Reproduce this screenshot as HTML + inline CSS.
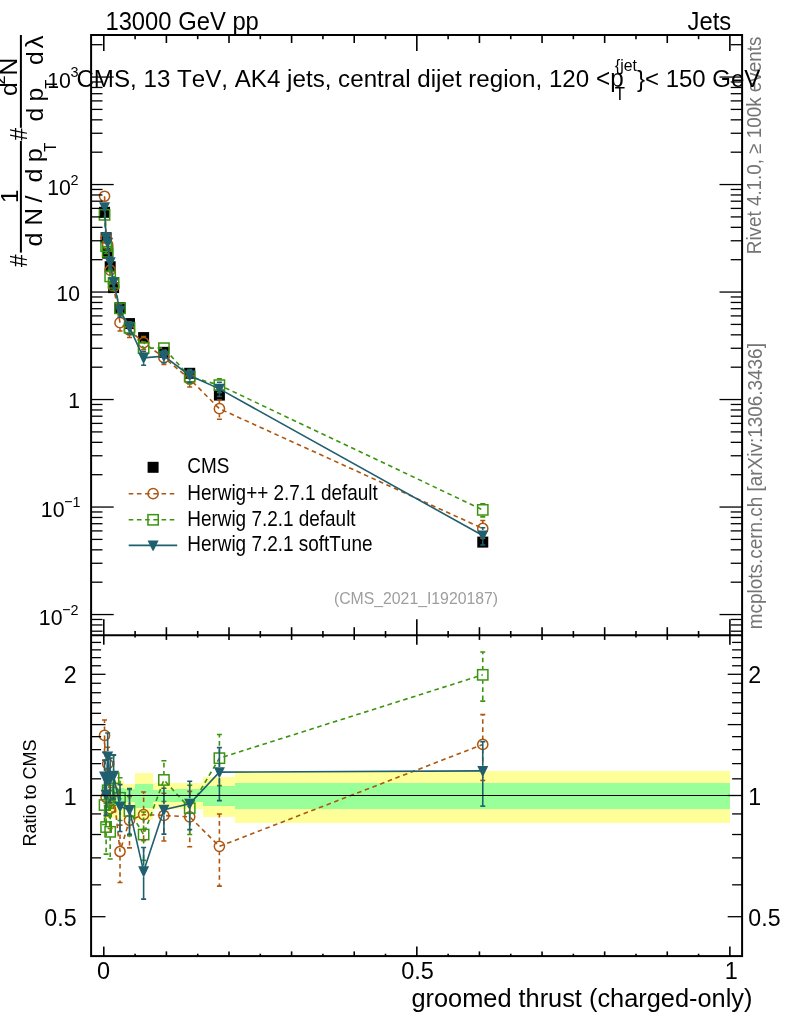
<!DOCTYPE html>
<html lang="en"><head><meta charset="utf-8"><title>groomed thrust (charged-only) - CMS_2021_I1920187</title>
<style>html,body{margin:0;padding:0;background:#fff;}svg{display:block;}text{font-kerning:none;}</style></head>
<body>
<svg width="786" height="1024" viewBox="0 0 786 1024" font-family='"Liberation Sans", sans-serif'>
<rect x="0" y="0" width="786" height="1024" fill="#fff"/>
<defs><clipPath id="cm"><rect x="91.1" y="35.0" width="651.0" height="600.2"/></clipPath><clipPath id="cr"><rect x="91.1" y="635.2" width="651.0" height="320.9"/></clipPath></defs>
<g clip-path="url(#cr)" shape-rendering="crispEdges">
<rect x="103.60" y="775.68" width="1.88" height="42.17" fill="#ffff99"/>
<rect x="105.48" y="775.68" width="1.25" height="42.17" fill="#ffff99"/>
<rect x="106.73" y="777.25" width="1.88" height="40.60" fill="#ffff99"/>
<rect x="108.61" y="780.43" width="3.13" height="38.02" fill="#ffff99"/>
<rect x="111.74" y="780.43" width="3.76" height="38.02" fill="#ffff99"/>
<rect x="115.50" y="780.91" width="8.77" height="37.94" fill="#ffff99"/>
<rect x="124.27" y="784.49" width="10.46" height="22.02" fill="#ffff99"/>
<rect x="134.73" y="773.00" width="17.97" height="47.29" fill="#ffff99"/>
<rect x="152.70" y="783.10" width="22.61" height="25.81" fill="#ffff99"/>
<rect x="175.31" y="783.20" width="28.00" height="25.41" fill="#ffff99"/>
<rect x="203.31" y="777.00" width="31.63" height="39.80" fill="#ffff99"/>
<rect x="234.94" y="771.21" width="494.96" height="51.68" fill="#ffff99"/>
<rect x="103.60" y="786.97" width="1.88" height="17.50" fill="#99ff99"/>
<rect x="105.48" y="786.97" width="1.25" height="17.50" fill="#99ff99"/>
<rect x="106.73" y="786.97" width="1.88" height="17.50" fill="#99ff99"/>
<rect x="108.61" y="786.97" width="3.13" height="17.50" fill="#99ff99"/>
<rect x="111.74" y="787.80" width="3.76" height="15.75" fill="#99ff99"/>
<rect x="115.50" y="787.97" width="8.77" height="14.30" fill="#99ff99"/>
<rect x="124.27" y="789.40" width="10.46" height="12.20" fill="#99ff99"/>
<rect x="134.73" y="783.91" width="17.97" height="23.81" fill="#99ff99"/>
<rect x="152.70" y="789.82" width="22.61" height="12.18" fill="#99ff99"/>
<rect x="175.31" y="789.20" width="28.00" height="12.71" fill="#99ff99"/>
<rect x="203.31" y="786.01" width="31.63" height="20.00" fill="#99ff99"/>
<rect x="234.94" y="783.20" width="494.96" height="25.71" fill="#99ff99"/>
</g>
<g clip-path="url(#cm)">
<rect x="99.04" y="206.79" width="11" height="11" fill="#000" stroke="none"/>
<rect x="100.61" y="232.25" width="11" height="11" fill="#000" stroke="none"/>
<rect x="102.17" y="247.66" width="11" height="11" fill="#000" stroke="none"/>
<rect x="104.68" y="261.23" width="11" height="11" fill="#000" stroke="none"/>
<rect x="108.12" y="282.10" width="11" height="11" fill="#000" stroke="none"/>
<rect x="114.51" y="302.21" width="11" height="11" fill="#000" stroke="none"/>
<rect x="124.00" y="318.08" width="11" height="11" fill="#000" stroke="none"/>
<rect x="138.12" y="332.09" width="11" height="11" fill="#000" stroke="none"/>
<rect x="158.41" y="346.82" width="11" height="11" fill="#000" stroke="none"/>
<rect x="184.22" y="367.79" width="11" height="11" fill="#000" stroke="none"/>
<rect x="213.90" y="389.60" width="11" height="11" fill="#000" stroke="none"/>
<rect x="477.26" y="536.60" width="11" height="11" fill="#000" stroke="none"/>
</g>
<g clip-path="url(#cm)" stroke="#ad560f" fill="none" stroke-width="1.6">
<polyline points="104.54,196.25 106.11,238.22 107.67,244.73 110.18,270.22 113.62,286.68 120.01,322.66 129.50,330.19 143.62,342.69 163.91,357.66 189.72,378.99 219.40,408.68 482.76,528.47" stroke-dasharray="4.6 3.6"/>
<line x1="120.01" y1="317.16" x2="120.01" y2="315.63" stroke-dasharray="4.6 3.6" stroke-dashoffset="1.2"/>
<line x1="117.51" y1="315.63" x2="122.51" y2="315.63"/>
<line x1="120.01" y1="328.16" x2="120.01" y2="330.94" stroke-dasharray="4.6 3.6" stroke-dashoffset="1.2"/>
<line x1="117.51" y1="330.94" x2="122.51" y2="330.94"/>
<line x1="129.50" y1="324.69" x2="129.50" y2="323.81" stroke-dasharray="4.6 3.6" stroke-dashoffset="1.2"/>
<line x1="127.00" y1="323.81" x2="132.00" y2="323.81"/>
<line x1="129.50" y1="335.69" x2="129.50" y2="337.57" stroke-dasharray="4.6 3.6" stroke-dashoffset="1.2"/>
<line x1="127.00" y1="337.57" x2="132.00" y2="337.57"/>
<line x1="143.62" y1="337.19" x2="143.62" y2="336.65" stroke-dasharray="4.6 3.6" stroke-dashoffset="1.2"/>
<line x1="141.12" y1="336.65" x2="146.12" y2="336.65"/>
<line x1="143.62" y1="348.19" x2="143.62" y2="349.64" stroke-dasharray="4.6 3.6" stroke-dashoffset="1.2"/>
<line x1="141.12" y1="349.64" x2="146.12" y2="349.64"/>
<line x1="163.91" y1="352.16" x2="163.91" y2="351.72" stroke-dasharray="4.6 3.6" stroke-dashoffset="1.2"/>
<line x1="161.41" y1="351.72" x2="166.41" y2="351.72"/>
<line x1="163.91" y1="363.16" x2="163.91" y2="364.46" stroke-dasharray="4.6 3.6" stroke-dashoffset="1.2"/>
<line x1="161.41" y1="364.46" x2="166.41" y2="364.46"/>
<line x1="189.72" y1="373.49" x2="189.72" y2="372.18" stroke-dasharray="4.6 3.6" stroke-dashoffset="1.2"/>
<line x1="187.22" y1="372.18" x2="192.22" y2="372.18"/>
<line x1="189.72" y1="384.49" x2="189.72" y2="386.97" stroke-dasharray="4.6 3.6" stroke-dashoffset="1.2"/>
<line x1="187.22" y1="386.97" x2="192.22" y2="386.97"/>
<line x1="219.40" y1="403.18" x2="219.40" y2="400.04" stroke-dasharray="4.6 3.6" stroke-dashoffset="1.2"/>
<line x1="216.90" y1="400.04" x2="221.90" y2="400.04"/>
<line x1="219.40" y1="414.18" x2="219.40" y2="419.29" stroke-dasharray="4.6 3.6" stroke-dashoffset="1.2"/>
<line x1="216.90" y1="419.29" x2="221.90" y2="419.29"/>
<line x1="482.76" y1="522.97" x2="482.76" y2="520.51" stroke-dasharray="4.6 3.6" stroke-dashoffset="1.2"/>
<line x1="480.26" y1="520.51" x2="485.26" y2="520.51"/>
<line x1="482.76" y1="533.97" x2="482.76" y2="538.08" stroke-dasharray="4.6 3.6" stroke-dashoffset="1.2"/>
<line x1="480.26" y1="538.08" x2="485.26" y2="538.08"/>
<circle cx="104.54" cy="196.25" r="5.1" stroke="#ad560f" stroke-width="1.5" fill="none"/>
<circle cx="106.11" cy="238.22" r="5.1" stroke="#ad560f" stroke-width="1.5" fill="none"/>
<circle cx="107.67" cy="244.73" r="5.1" stroke="#ad560f" stroke-width="1.5" fill="none"/>
<circle cx="110.18" cy="270.22" r="5.1" stroke="#ad560f" stroke-width="1.5" fill="none"/>
<circle cx="113.62" cy="286.68" r="5.1" stroke="#ad560f" stroke-width="1.5" fill="none"/>
<circle cx="120.01" cy="322.66" r="5.1" stroke="#ad560f" stroke-width="1.5" fill="none"/>
<circle cx="129.50" cy="330.19" r="5.1" stroke="#ad560f" stroke-width="1.5" fill="none"/>
<circle cx="143.62" cy="342.69" r="5.1" stroke="#ad560f" stroke-width="1.5" fill="none"/>
<circle cx="163.91" cy="357.66" r="5.1" stroke="#ad560f" stroke-width="1.5" fill="none"/>
<circle cx="189.72" cy="378.99" r="5.1" stroke="#ad560f" stroke-width="1.5" fill="none"/>
<circle cx="219.40" cy="408.68" r="5.1" stroke="#ad560f" stroke-width="1.5" fill="none"/>
<circle cx="482.76" cy="528.47" r="5.1" stroke="#ad560f" stroke-width="1.5" fill="none"/>
</g>
<g clip-path="url(#cm)" stroke="#3a940e" fill="none" stroke-width="1.6">
<polyline points="104.54,214.83 106.11,246.17 107.67,251.78 110.18,276.42 113.62,282.98 120.01,308.32 129.50,327.73 143.62,348.01 163.91,348.17 189.72,376.68 219.40,385.13 482.76,509.88" stroke-dasharray="4.6 3.6"/>
<line x1="106.11" y1="240.67" x2="106.11" y2="239.90" stroke-dasharray="4.6 3.6" stroke-dashoffset="1.2"/>
<line x1="103.61" y1="239.90" x2="108.61" y2="239.90"/>
<line x1="106.11" y1="251.67" x2="106.11" y2="253.41" stroke-dasharray="4.6 3.6" stroke-dashoffset="1.2"/>
<line x1="103.61" y1="253.41" x2="108.61" y2="253.41"/>
<line x1="110.18" y1="270.92" x2="110.18" y2="270.14" stroke-dasharray="4.6 3.6" stroke-dashoffset="1.2"/>
<line x1="107.68" y1="270.14" x2="112.68" y2="270.14"/>
<line x1="110.18" y1="281.92" x2="110.18" y2="283.68" stroke-dasharray="4.6 3.6" stroke-dashoffset="1.2"/>
<line x1="107.68" y1="283.68" x2="112.68" y2="283.68"/>
<line x1="113.62" y1="277.48" x2="113.62" y2="276.74" stroke-dasharray="4.6 3.6" stroke-dashoffset="1.2"/>
<line x1="111.12" y1="276.74" x2="116.12" y2="276.74"/>
<line x1="113.62" y1="288.48" x2="113.62" y2="290.19" stroke-dasharray="4.6 3.6" stroke-dashoffset="1.2"/>
<line x1="111.12" y1="290.19" x2="116.12" y2="290.19"/>
<line x1="120.01" y1="313.82" x2="120.01" y2="314.38" stroke-dasharray="4.6 3.6" stroke-dashoffset="1.2"/>
<line x1="117.51" y1="314.38" x2="122.51" y2="314.38"/>
<line x1="129.50" y1="322.23" x2="129.50" y2="321.97" stroke-dasharray="4.6 3.6" stroke-dashoffset="1.2"/>
<line x1="127.00" y1="321.97" x2="132.00" y2="321.97"/>
<line x1="129.50" y1="333.23" x2="129.50" y2="334.29" stroke-dasharray="4.6 3.6" stroke-dashoffset="1.2"/>
<line x1="127.00" y1="334.29" x2="132.00" y2="334.29"/>
<line x1="143.62" y1="342.51" x2="143.62" y2="342.00" stroke-dasharray="4.6 3.6" stroke-dashoffset="1.2"/>
<line x1="141.12" y1="342.00" x2="146.12" y2="342.00"/>
<line x1="143.62" y1="353.51" x2="143.62" y2="354.92" stroke-dasharray="4.6 3.6" stroke-dashoffset="1.2"/>
<line x1="141.12" y1="354.92" x2="146.12" y2="354.92"/>
<line x1="163.91" y1="353.67" x2="163.91" y2="353.94" stroke-dasharray="4.6 3.6" stroke-dashoffset="1.2"/>
<line x1="161.41" y1="353.94" x2="166.41" y2="353.94"/>
<line x1="189.72" y1="371.18" x2="189.72" y2="370.57" stroke-dasharray="4.6 3.6" stroke-dashoffset="1.2"/>
<line x1="187.22" y1="370.57" x2="192.22" y2="370.57"/>
<line x1="189.72" y1="382.18" x2="189.72" y2="383.71" stroke-dasharray="4.6 3.6" stroke-dashoffset="1.2"/>
<line x1="187.22" y1="383.71" x2="192.22" y2="383.71"/>
<line x1="219.40" y1="379.63" x2="219.40" y2="378.80" stroke-dasharray="4.6 3.6" stroke-dashoffset="1.2"/>
<line x1="216.90" y1="378.80" x2="221.90" y2="378.80"/>
<line x1="219.40" y1="390.63" x2="219.40" y2="392.47" stroke-dasharray="4.6 3.6" stroke-dashoffset="1.2"/>
<line x1="216.90" y1="392.47" x2="221.90" y2="392.47"/>
<line x1="482.76" y1="504.38" x2="482.76" y2="503.79" stroke-dasharray="4.6 3.6" stroke-dashoffset="1.2"/>
<line x1="480.26" y1="503.79" x2="485.26" y2="503.79"/>
<line x1="482.76" y1="515.38" x2="482.76" y2="516.89" stroke-dasharray="4.6 3.6" stroke-dashoffset="1.2"/>
<line x1="480.26" y1="516.89" x2="485.26" y2="516.89"/>
<rect x="99.39" y="209.68" width="10.3" height="10.3" stroke="#3a940e" stroke-width="1.5" fill="none"/>
<rect x="100.96" y="241.02" width="10.3" height="10.3" stroke="#3a940e" stroke-width="1.5" fill="none"/>
<rect x="102.52" y="246.63" width="10.3" height="10.3" stroke="#3a940e" stroke-width="1.5" fill="none"/>
<rect x="105.03" y="271.27" width="10.3" height="10.3" stroke="#3a940e" stroke-width="1.5" fill="none"/>
<rect x="108.47" y="277.83" width="10.3" height="10.3" stroke="#3a940e" stroke-width="1.5" fill="none"/>
<rect x="114.86" y="303.17" width="10.3" height="10.3" stroke="#3a940e" stroke-width="1.5" fill="none"/>
<rect x="124.35" y="322.58" width="10.3" height="10.3" stroke="#3a940e" stroke-width="1.5" fill="none"/>
<rect x="138.47" y="342.86" width="10.3" height="10.3" stroke="#3a940e" stroke-width="1.5" fill="none"/>
<rect x="158.76" y="343.02" width="10.3" height="10.3" stroke="#3a940e" stroke-width="1.5" fill="none"/>
<rect x="184.57" y="371.53" width="10.3" height="10.3" stroke="#3a940e" stroke-width="1.5" fill="none"/>
<rect x="214.25" y="379.98" width="10.3" height="10.3" stroke="#3a940e" stroke-width="1.5" fill="none"/>
<rect x="477.61" y="504.73" width="10.3" height="10.3" stroke="#3a940e" stroke-width="1.5" fill="none"/>
</g>
<g clip-path="url(#cm)" stroke="#1f5f6e" fill="none" stroke-width="1.6">
<polyline points="104.54,207.25 106.11,237.56 107.67,242.75 110.18,262.28 113.62,282.31 120.01,310.65 129.50,327.42 143.62,357.85 163.91,356.11 189.72,375.51 219.40,388.86 482.76,535.54"/>
<line x1="107.67" y1="237.25" x2="107.67" y2="236.47"/>
<line x1="105.17" y1="236.47" x2="110.17" y2="236.47"/>
<line x1="107.67" y1="248.25" x2="107.67" y2="250.01"/>
<line x1="105.17" y1="250.01" x2="110.17" y2="250.01"/>
<line x1="110.18" y1="256.78" x2="110.18" y2="256.76"/>
<line x1="107.68" y1="256.76" x2="112.68" y2="256.76"/>
<line x1="110.18" y1="267.78" x2="110.18" y2="268.54"/>
<line x1="107.68" y1="268.54" x2="112.68" y2="268.54"/>
<line x1="113.62" y1="287.81" x2="113.62" y2="288.54"/>
<line x1="111.12" y1="288.54" x2="116.12" y2="288.54"/>
<line x1="120.01" y1="305.15" x2="120.01" y2="304.82"/>
<line x1="117.51" y1="304.82" x2="122.51" y2="304.82"/>
<line x1="120.01" y1="316.15" x2="120.01" y2="317.32"/>
<line x1="117.51" y1="317.32" x2="122.51" y2="317.32"/>
<line x1="129.50" y1="321.92" x2="129.50" y2="321.70"/>
<line x1="127.00" y1="321.70" x2="132.00" y2="321.70"/>
<line x1="129.50" y1="332.92" x2="129.50" y2="333.94"/>
<line x1="127.00" y1="333.94" x2="132.00" y2="333.94"/>
<line x1="143.62" y1="352.35" x2="143.62" y2="351.46"/>
<line x1="141.12" y1="351.46" x2="146.12" y2="351.46"/>
<line x1="143.62" y1="363.35" x2="143.62" y2="365.25"/>
<line x1="141.12" y1="365.25" x2="146.12" y2="365.25"/>
<line x1="163.91" y1="350.61" x2="163.91" y2="350.40"/>
<line x1="161.41" y1="350.40" x2="166.41" y2="350.40"/>
<line x1="163.91" y1="361.61" x2="163.91" y2="362.62"/>
<line x1="161.41" y1="362.62" x2="166.41" y2="362.62"/>
<line x1="189.72" y1="370.01" x2="189.72" y2="369.50"/>
<line x1="187.22" y1="369.50" x2="192.22" y2="369.50"/>
<line x1="189.72" y1="381.01" x2="189.72" y2="382.41"/>
<line x1="187.22" y1="382.41" x2="192.22" y2="382.41"/>
<line x1="219.40" y1="383.36" x2="219.40" y2="382.32"/>
<line x1="216.90" y1="382.32" x2="221.90" y2="382.32"/>
<line x1="219.40" y1="394.36" x2="219.40" y2="396.47"/>
<line x1="216.90" y1="396.47" x2="221.90" y2="396.47"/>
<line x1="482.76" y1="530.04" x2="482.76" y2="527.71"/>
<line x1="480.26" y1="527.71" x2="485.26" y2="527.71"/>
<line x1="482.76" y1="541.04" x2="482.76" y2="544.94"/>
<line x1="480.26" y1="544.94" x2="485.26" y2="544.94"/>
<path d="M99.04 202.25L110.04 202.25L105.04 212.55L104.04 212.55Z" fill="#1f5f6e" stroke="none"/>
<path d="M100.61 232.56L111.61 232.56L106.61 242.86L105.61 242.86Z" fill="#1f5f6e" stroke="none"/>
<path d="M102.17 237.75L113.17 237.75L108.17 248.05L107.17 248.05Z" fill="#1f5f6e" stroke="none"/>
<path d="M104.68 257.28L115.68 257.28L110.68 267.58L109.68 267.58Z" fill="#1f5f6e" stroke="none"/>
<path d="M108.12 277.31L119.12 277.31L114.12 287.61L113.12 287.61Z" fill="#1f5f6e" stroke="none"/>
<path d="M114.51 305.65L125.51 305.65L120.51 315.95L119.51 315.95Z" fill="#1f5f6e" stroke="none"/>
<path d="M124.00 322.42L135.00 322.42L130.00 332.72L129.00 332.72Z" fill="#1f5f6e" stroke="none"/>
<path d="M138.12 352.85L149.12 352.85L144.12 363.15L143.12 363.15Z" fill="#1f5f6e" stroke="none"/>
<path d="M158.41 351.11L169.41 351.11L164.41 361.41L163.41 361.41Z" fill="#1f5f6e" stroke="none"/>
<path d="M184.22 370.51L195.22 370.51L190.22 380.81L189.22 380.81Z" fill="#1f5f6e" stroke="none"/>
<path d="M213.90 383.86L224.90 383.86L219.90 394.16L218.90 394.16Z" fill="#1f5f6e" stroke="none"/>
<path d="M477.26 530.54L488.26 530.54L483.26 540.84L482.26 540.84Z" fill="#1f5f6e" stroke="none"/>
</g>
<g clip-path="url(#cr)" stroke="#ad560f" fill="none" stroke-width="1.6">
<polyline points="104.54,735.42 106.11,797.26 107.67,763.91 110.18,808.57 113.62,792.04 120.01,851.49 129.50,820.25 143.62,814.60 163.91,815.48 189.72,816.86 219.40,846.36 482.76,744.46" stroke-dasharray="4.6 3.6"/>
<line x1="104.54" y1="729.92" x2="104.54" y2="720.00" stroke-dasharray="4.6 3.6" stroke-dashoffset="1.2"/>
<line x1="102.04" y1="720.00" x2="107.04" y2="720.00"/>
<line x1="104.54" y1="740.92" x2="104.54" y2="752.34" stroke-dasharray="4.6 3.6" stroke-dashoffset="1.2"/>
<line x1="102.04" y1="752.34" x2="107.04" y2="752.34"/>
<line x1="106.11" y1="791.76" x2="106.11" y2="780.43" stroke-dasharray="4.6 3.6" stroke-dashoffset="1.2"/>
<line x1="103.61" y1="780.43" x2="108.61" y2="780.43"/>
<line x1="106.11" y1="802.76" x2="106.11" y2="815.88" stroke-dasharray="4.6 3.6" stroke-dashoffset="1.2"/>
<line x1="103.61" y1="815.88" x2="108.61" y2="815.88"/>
<line x1="107.67" y1="758.41" x2="107.67" y2="747.22" stroke-dasharray="4.6 3.6" stroke-dashoffset="1.2"/>
<line x1="105.17" y1="747.22" x2="110.17" y2="747.22"/>
<line x1="107.67" y1="769.41" x2="107.67" y2="782.37" stroke-dasharray="4.6 3.6" stroke-dashoffset="1.2"/>
<line x1="105.17" y1="782.37" x2="110.17" y2="782.37"/>
<line x1="110.18" y1="803.07" x2="110.18" y2="790.67" stroke-dasharray="4.6 3.6" stroke-dashoffset="1.2"/>
<line x1="107.68" y1="790.67" x2="112.68" y2="790.67"/>
<line x1="110.18" y1="814.07" x2="110.18" y2="828.50" stroke-dasharray="4.6 3.6" stroke-dashoffset="1.2"/>
<line x1="107.68" y1="828.50" x2="112.68" y2="828.50"/>
<line x1="113.62" y1="786.54" x2="113.62" y2="774.13" stroke-dasharray="4.6 3.6" stroke-dashoffset="1.2"/>
<line x1="111.12" y1="774.13" x2="116.12" y2="774.13"/>
<line x1="113.62" y1="797.54" x2="113.62" y2="811.99" stroke-dasharray="4.6 3.6" stroke-dashoffset="1.2"/>
<line x1="111.12" y1="811.99" x2="116.12" y2="811.99"/>
<line x1="120.01" y1="845.99" x2="120.01" y2="825.16" stroke-dasharray="4.6 3.6" stroke-dashoffset="1.2"/>
<line x1="117.51" y1="825.16" x2="122.51" y2="825.16"/>
<line x1="120.01" y1="856.99" x2="120.01" y2="882.50" stroke-dasharray="4.6 3.6" stroke-dashoffset="1.2"/>
<line x1="117.51" y1="882.50" x2="122.51" y2="882.50"/>
<line x1="129.50" y1="814.75" x2="129.50" y2="796.38" stroke-dasharray="4.6 3.6" stroke-dashoffset="1.2"/>
<line x1="127.00" y1="796.38" x2="132.00" y2="796.38"/>
<line x1="129.50" y1="825.75" x2="129.50" y2="847.91" stroke-dasharray="4.6 3.6" stroke-dashoffset="1.2"/>
<line x1="127.00" y1="847.91" x2="132.00" y2="847.91"/>
<line x1="143.62" y1="809.10" x2="143.62" y2="791.95" stroke-dasharray="4.6 3.6" stroke-dashoffset="1.2"/>
<line x1="141.12" y1="791.95" x2="146.12" y2="791.95"/>
<line x1="143.62" y1="820.10" x2="143.62" y2="840.63" stroke-dasharray="4.6 3.6" stroke-dashoffset="1.2"/>
<line x1="141.12" y1="840.63" x2="146.12" y2="840.63"/>
<line x1="163.91" y1="809.98" x2="163.91" y2="793.24" stroke-dasharray="4.6 3.6" stroke-dashoffset="1.2"/>
<line x1="161.41" y1="793.24" x2="166.41" y2="793.24"/>
<line x1="163.91" y1="820.98" x2="163.91" y2="840.97" stroke-dasharray="4.6 3.6" stroke-dashoffset="1.2"/>
<line x1="161.41" y1="840.97" x2="166.41" y2="840.97"/>
<line x1="189.72" y1="811.36" x2="189.72" y2="791.35" stroke-dasharray="4.6 3.6" stroke-dashoffset="1.2"/>
<line x1="187.22" y1="791.35" x2="192.22" y2="791.35"/>
<line x1="189.72" y1="822.36" x2="189.72" y2="846.74" stroke-dasharray="4.6 3.6" stroke-dashoffset="1.2"/>
<line x1="187.22" y1="846.74" x2="192.22" y2="846.74"/>
<line x1="219.40" y1="840.86" x2="219.40" y2="814.00" stroke-dasharray="4.6 3.6" stroke-dashoffset="1.2"/>
<line x1="216.90" y1="814.00" x2="221.90" y2="814.00"/>
<line x1="219.40" y1="851.86" x2="219.40" y2="886.11" stroke-dasharray="4.6 3.6" stroke-dashoffset="1.2"/>
<line x1="216.90" y1="886.11" x2="221.90" y2="886.11"/>
<line x1="482.76" y1="738.96" x2="482.76" y2="714.63" stroke-dasharray="4.6 3.6" stroke-dashoffset="1.2"/>
<line x1="480.26" y1="714.63" x2="485.26" y2="714.63"/>
<line x1="482.76" y1="749.96" x2="482.76" y2="780.43" stroke-dasharray="4.6 3.6" stroke-dashoffset="1.2"/>
<line x1="480.26" y1="780.43" x2="485.26" y2="780.43"/>
<circle cx="104.54" cy="735.42" r="5.1" stroke="#ad560f" stroke-width="1.5" fill="none"/>
<circle cx="106.11" cy="797.26" r="5.1" stroke="#ad560f" stroke-width="1.5" fill="none"/>
<circle cx="107.67" cy="763.91" r="5.1" stroke="#ad560f" stroke-width="1.5" fill="none"/>
<circle cx="110.18" cy="808.57" r="5.1" stroke="#ad560f" stroke-width="1.5" fill="none"/>
<circle cx="113.62" cy="792.04" r="5.1" stroke="#ad560f" stroke-width="1.5" fill="none"/>
<circle cx="120.01" cy="851.49" r="5.1" stroke="#ad560f" stroke-width="1.5" fill="none"/>
<circle cx="129.50" cy="820.25" r="5.1" stroke="#ad560f" stroke-width="1.5" fill="none"/>
<circle cx="143.62" cy="814.60" r="5.1" stroke="#ad560f" stroke-width="1.5" fill="none"/>
<circle cx="163.91" cy="815.48" r="5.1" stroke="#ad560f" stroke-width="1.5" fill="none"/>
<circle cx="189.72" cy="816.86" r="5.1" stroke="#ad560f" stroke-width="1.5" fill="none"/>
<circle cx="219.40" cy="846.36" r="5.1" stroke="#ad560f" stroke-width="1.5" fill="none"/>
<circle cx="482.76" cy="744.46" r="5.1" stroke="#ad560f" stroke-width="1.5" fill="none"/>
</g>
<g clip-path="url(#cr)" stroke="#3a940e" fill="none" stroke-width="1.6">
<polyline points="104.54,805.02 106.11,827.03 107.67,790.33 110.18,831.81 113.62,778.20 120.01,797.79 129.50,811.03 143.62,834.52 163.91,779.95 189.72,808.19 219.40,758.17 482.76,674.83" stroke-dasharray="4.6 3.6"/>
<line x1="104.54" y1="799.52" x2="104.54" y2="787.47" stroke-dasharray="4.6 3.6" stroke-dashoffset="1.2"/>
<line x1="102.04" y1="787.47" x2="107.04" y2="787.47"/>
<line x1="104.54" y1="810.52" x2="104.54" y2="824.54" stroke-dasharray="4.6 3.6" stroke-dashoffset="1.2"/>
<line x1="102.04" y1="824.54" x2="107.04" y2="824.54"/>
<line x1="106.11" y1="821.53" x2="106.11" y2="803.55" stroke-dasharray="4.6 3.6" stroke-dashoffset="1.2"/>
<line x1="103.61" y1="803.55" x2="108.61" y2="803.55"/>
<line x1="106.11" y1="832.53" x2="106.11" y2="854.16" stroke-dasharray="4.6 3.6" stroke-dashoffset="1.2"/>
<line x1="103.61" y1="854.16" x2="108.61" y2="854.16"/>
<line x1="107.67" y1="784.83" x2="107.67" y2="772.59" stroke-dasharray="4.6 3.6" stroke-dashoffset="1.2"/>
<line x1="105.17" y1="772.59" x2="110.17" y2="772.59"/>
<line x1="107.67" y1="795.83" x2="107.67" y2="810.08" stroke-dasharray="4.6 3.6" stroke-dashoffset="1.2"/>
<line x1="105.17" y1="810.08" x2="110.17" y2="810.08"/>
<line x1="110.18" y1="826.31" x2="110.18" y2="808.28" stroke-dasharray="4.6 3.6" stroke-dashoffset="1.2"/>
<line x1="107.68" y1="808.28" x2="112.68" y2="808.28"/>
<line x1="110.18" y1="837.31" x2="110.18" y2="858.99" stroke-dasharray="4.6 3.6" stroke-dashoffset="1.2"/>
<line x1="107.68" y1="858.99" x2="112.68" y2="858.99"/>
<line x1="113.62" y1="772.70" x2="113.62" y2="754.81" stroke-dasharray="4.6 3.6" stroke-dashoffset="1.2"/>
<line x1="111.12" y1="754.81" x2="116.12" y2="754.81"/>
<line x1="113.62" y1="783.70" x2="113.62" y2="805.21" stroke-dasharray="4.6 3.6" stroke-dashoffset="1.2"/>
<line x1="111.12" y1="805.21" x2="116.12" y2="805.21"/>
<line x1="120.01" y1="792.29" x2="120.01" y2="777.73" stroke-dasharray="4.6 3.6" stroke-dashoffset="1.2"/>
<line x1="117.51" y1="777.73" x2="122.51" y2="777.73"/>
<line x1="120.01" y1="803.29" x2="120.01" y2="820.45" stroke-dasharray="4.6 3.6" stroke-dashoffset="1.2"/>
<line x1="117.51" y1="820.45" x2="122.51" y2="820.45"/>
<line x1="129.50" y1="805.53" x2="129.50" y2="789.48" stroke-dasharray="4.6 3.6" stroke-dashoffset="1.2"/>
<line x1="127.00" y1="789.48" x2="132.00" y2="789.48"/>
<line x1="129.50" y1="816.53" x2="129.50" y2="835.61" stroke-dasharray="4.6 3.6" stroke-dashoffset="1.2"/>
<line x1="127.00" y1="835.61" x2="132.00" y2="835.61"/>
<line x1="143.62" y1="829.02" x2="143.62" y2="811.99" stroke-dasharray="4.6 3.6" stroke-dashoffset="1.2"/>
<line x1="141.12" y1="811.99" x2="146.12" y2="811.99"/>
<line x1="143.62" y1="840.02" x2="143.62" y2="860.38" stroke-dasharray="4.6 3.6" stroke-dashoffset="1.2"/>
<line x1="141.12" y1="860.38" x2="146.12" y2="860.38"/>
<line x1="163.91" y1="774.45" x2="163.91" y2="760.73" stroke-dasharray="4.6 3.6" stroke-dashoffset="1.2"/>
<line x1="161.41" y1="760.73" x2="166.41" y2="760.73"/>
<line x1="163.91" y1="785.45" x2="163.91" y2="801.55" stroke-dasharray="4.6 3.6" stroke-dashoffset="1.2"/>
<line x1="161.41" y1="801.55" x2="166.41" y2="801.55"/>
<line x1="189.72" y1="802.69" x2="189.72" y2="785.31" stroke-dasharray="4.6 3.6" stroke-dashoffset="1.2"/>
<line x1="187.22" y1="785.31" x2="192.22" y2="785.31"/>
<line x1="189.72" y1="813.69" x2="189.72" y2="834.52" stroke-dasharray="4.6 3.6" stroke-dashoffset="1.2"/>
<line x1="187.22" y1="834.52" x2="192.22" y2="834.52"/>
<line x1="219.40" y1="752.67" x2="219.40" y2="734.43" stroke-dasharray="4.6 3.6" stroke-dashoffset="1.2"/>
<line x1="216.90" y1="734.43" x2="221.90" y2="734.43"/>
<line x1="219.40" y1="763.67" x2="219.40" y2="785.64" stroke-dasharray="4.6 3.6" stroke-dashoffset="1.2"/>
<line x1="216.90" y1="785.64" x2="221.90" y2="785.64"/>
<line x1="482.76" y1="669.33" x2="482.76" y2="652.00" stroke-dasharray="4.6 3.6" stroke-dashoffset="1.2"/>
<line x1="480.26" y1="652.00" x2="485.26" y2="652.00"/>
<line x1="482.76" y1="680.33" x2="482.76" y2="701.08" stroke-dasharray="4.6 3.6" stroke-dashoffset="1.2"/>
<line x1="480.26" y1="701.08" x2="485.26" y2="701.08"/>
<rect x="99.39" y="799.87" width="10.3" height="10.3" stroke="#3a940e" stroke-width="1.5" fill="none"/>
<rect x="100.96" y="821.88" width="10.3" height="10.3" stroke="#3a940e" stroke-width="1.5" fill="none"/>
<rect x="102.52" y="785.18" width="10.3" height="10.3" stroke="#3a940e" stroke-width="1.5" fill="none"/>
<rect x="105.03" y="826.66" width="10.3" height="10.3" stroke="#3a940e" stroke-width="1.5" fill="none"/>
<rect x="108.47" y="773.05" width="10.3" height="10.3" stroke="#3a940e" stroke-width="1.5" fill="none"/>
<rect x="114.86" y="792.64" width="10.3" height="10.3" stroke="#3a940e" stroke-width="1.5" fill="none"/>
<rect x="124.35" y="805.88" width="10.3" height="10.3" stroke="#3a940e" stroke-width="1.5" fill="none"/>
<rect x="138.47" y="829.37" width="10.3" height="10.3" stroke="#3a940e" stroke-width="1.5" fill="none"/>
<rect x="158.76" y="774.80" width="10.3" height="10.3" stroke="#3a940e" stroke-width="1.5" fill="none"/>
<rect x="184.57" y="803.04" width="10.3" height="10.3" stroke="#3a940e" stroke-width="1.5" fill="none"/>
<rect x="214.25" y="753.02" width="10.3" height="10.3" stroke="#3a940e" stroke-width="1.5" fill="none"/>
<rect x="477.61" y="669.68" width="10.3" height="10.3" stroke="#3a940e" stroke-width="1.5" fill="none"/>
</g>
<g clip-path="url(#cr)" stroke="#1f5f6e" fill="none" stroke-width="1.6">
<polyline points="104.54,776.62 106.11,794.80 107.67,756.48 110.18,778.83 113.62,775.68 120.01,806.51 129.50,809.89 143.62,871.36 163.91,809.70 189.72,803.81 219.40,772.13 482.76,770.91"/>
<line x1="104.54" y1="771.12" x2="104.54" y2="760.16"/>
<line x1="102.04" y1="760.16" x2="107.04" y2="760.16"/>
<line x1="104.54" y1="782.12" x2="104.54" y2="794.80"/>
<line x1="102.04" y1="794.80" x2="107.04" y2="794.80"/>
<line x1="106.11" y1="789.30" x2="106.11" y2="776.62"/>
<line x1="103.61" y1="776.62" x2="108.61" y2="776.62"/>
<line x1="106.11" y1="800.30" x2="106.11" y2="815.09"/>
<line x1="103.61" y1="815.09" x2="108.61" y2="815.09"/>
<line x1="107.67" y1="750.98" x2="107.67" y2="732.96"/>
<line x1="105.17" y1="732.96" x2="110.17" y2="732.96"/>
<line x1="107.67" y1="761.98" x2="107.67" y2="783.67"/>
<line x1="105.17" y1="783.67" x2="110.17" y2="783.67"/>
<line x1="110.18" y1="773.33" x2="110.18" y2="758.17"/>
<line x1="107.68" y1="758.17" x2="112.68" y2="758.17"/>
<line x1="110.18" y1="784.33" x2="110.18" y2="802.27"/>
<line x1="107.68" y1="802.27" x2="112.68" y2="802.27"/>
<line x1="113.62" y1="770.18" x2="113.62" y2="755.09"/>
<line x1="111.12" y1="755.09" x2="116.12" y2="755.09"/>
<line x1="113.62" y1="781.18" x2="113.62" y2="799.03"/>
<line x1="111.12" y1="799.03" x2="116.12" y2="799.03"/>
<line x1="120.01" y1="801.01" x2="120.01" y2="784.65"/>
<line x1="117.51" y1="784.65" x2="122.51" y2="784.65"/>
<line x1="120.01" y1="812.01" x2="120.01" y2="831.48"/>
<line x1="117.51" y1="831.48" x2="122.51" y2="831.48"/>
<line x1="129.50" y1="804.39" x2="129.50" y2="788.47"/>
<line x1="127.00" y1="788.47" x2="132.00" y2="788.47"/>
<line x1="129.50" y1="815.39" x2="129.50" y2="834.30"/>
<line x1="127.00" y1="834.30" x2="132.00" y2="834.30"/>
<line x1="143.62" y1="865.86" x2="143.62" y2="847.44"/>
<line x1="141.12" y1="847.44" x2="146.12" y2="847.44"/>
<line x1="143.62" y1="876.86" x2="143.62" y2="899.08"/>
<line x1="141.12" y1="899.08" x2="146.12" y2="899.08"/>
<line x1="163.91" y1="804.20" x2="163.91" y2="788.31"/>
<line x1="161.41" y1="788.31" x2="166.41" y2="788.31"/>
<line x1="163.91" y1="815.20" x2="163.91" y2="834.08"/>
<line x1="161.41" y1="834.08" x2="166.41" y2="834.08"/>
<line x1="189.72" y1="798.31" x2="189.72" y2="781.30"/>
<line x1="187.22" y1="781.30" x2="192.22" y2="781.30"/>
<line x1="189.72" y1="809.31" x2="189.72" y2="829.65"/>
<line x1="187.22" y1="829.65" x2="192.22" y2="829.65"/>
<line x1="219.40" y1="766.63" x2="219.40" y2="747.62"/>
<line x1="216.90" y1="747.62" x2="221.90" y2="747.62"/>
<line x1="219.40" y1="777.63" x2="219.40" y2="800.65"/>
<line x1="216.90" y1="800.65" x2="221.90" y2="800.65"/>
<line x1="482.76" y1="765.41" x2="482.76" y2="741.61"/>
<line x1="480.26" y1="741.61" x2="485.26" y2="741.61"/>
<line x1="482.76" y1="776.41" x2="482.76" y2="806.13"/>
<line x1="480.26" y1="806.13" x2="485.26" y2="806.13"/>
<path d="M99.04 771.62L110.04 771.62L105.04 781.92L104.04 781.92Z" fill="#1f5f6e" stroke="none"/>
<path d="M100.61 789.80L111.61 789.80L106.61 800.10L105.61 800.10Z" fill="#1f5f6e" stroke="none"/>
<path d="M102.17 751.48L113.17 751.48L108.17 761.78L107.17 761.78Z" fill="#1f5f6e" stroke="none"/>
<path d="M104.68 773.83L115.68 773.83L110.68 784.13L109.68 784.13Z" fill="#1f5f6e" stroke="none"/>
<path d="M108.12 770.68L119.12 770.68L114.12 780.98L113.12 780.98Z" fill="#1f5f6e" stroke="none"/>
<path d="M114.51 801.51L125.51 801.51L120.51 811.81L119.51 811.81Z" fill="#1f5f6e" stroke="none"/>
<path d="M124.00 804.89L135.00 804.89L130.00 815.19L129.00 815.19Z" fill="#1f5f6e" stroke="none"/>
<path d="M138.12 866.36L149.12 866.36L144.12 876.66L143.12 876.66Z" fill="#1f5f6e" stroke="none"/>
<path d="M158.41 804.70L169.41 804.70L164.41 815.00L163.41 815.00Z" fill="#1f5f6e" stroke="none"/>
<path d="M184.22 798.81L195.22 798.81L190.22 809.11L189.22 809.11Z" fill="#1f5f6e" stroke="none"/>
<path d="M213.90 767.13L224.90 767.13L219.90 777.43L218.90 777.43Z" fill="#1f5f6e" stroke="none"/>
<path d="M477.26 765.91L488.26 765.91L483.26 776.21L482.26 776.21Z" fill="#1f5f6e" stroke="none"/>
</g>
<line x1="91.1" y1="795.5" x2="742.1" y2="795.5" stroke="#000" stroke-width="1.2"/>
<g stroke="#000" stroke-width="1.3" fill="none">
<line x1="91.10" y1="631.20" x2="102.50" y2="631.20"/>
<line x1="730.70" y1="631.20" x2="742.10" y2="631.20"/>
<line x1="91.10" y1="624.97" x2="102.50" y2="624.97"/>
<line x1="730.70" y1="624.97" x2="742.10" y2="624.97"/>
<line x1="91.10" y1="619.47" x2="102.50" y2="619.47"/>
<line x1="730.70" y1="619.47" x2="742.10" y2="619.47"/>
<line x1="91.10" y1="614.55" x2="113.70" y2="614.55"/>
<line x1="719.50" y1="614.55" x2="742.10" y2="614.55"/>
<line x1="91.10" y1="582.19" x2="102.50" y2="582.19"/>
<line x1="730.70" y1="582.19" x2="742.10" y2="582.19"/>
<line x1="91.10" y1="563.26" x2="102.50" y2="563.26"/>
<line x1="730.70" y1="563.26" x2="742.10" y2="563.26"/>
<line x1="91.10" y1="549.83" x2="102.50" y2="549.83"/>
<line x1="730.70" y1="549.83" x2="742.10" y2="549.83"/>
<line x1="91.10" y1="539.41" x2="102.50" y2="539.41"/>
<line x1="730.70" y1="539.41" x2="742.10" y2="539.41"/>
<line x1="91.10" y1="530.90" x2="102.50" y2="530.90"/>
<line x1="730.70" y1="530.90" x2="742.10" y2="530.90"/>
<line x1="91.10" y1="523.70" x2="102.50" y2="523.70"/>
<line x1="730.70" y1="523.70" x2="742.10" y2="523.70"/>
<line x1="91.10" y1="517.47" x2="102.50" y2="517.47"/>
<line x1="730.70" y1="517.47" x2="742.10" y2="517.47"/>
<line x1="91.10" y1="511.97" x2="102.50" y2="511.97"/>
<line x1="730.70" y1="511.97" x2="742.10" y2="511.97"/>
<line x1="91.10" y1="507.05" x2="113.70" y2="507.05"/>
<line x1="719.50" y1="507.05" x2="742.10" y2="507.05"/>
<line x1="91.10" y1="474.69" x2="102.50" y2="474.69"/>
<line x1="730.70" y1="474.69" x2="742.10" y2="474.69"/>
<line x1="91.10" y1="455.76" x2="102.50" y2="455.76"/>
<line x1="730.70" y1="455.76" x2="742.10" y2="455.76"/>
<line x1="91.10" y1="442.33" x2="102.50" y2="442.33"/>
<line x1="730.70" y1="442.33" x2="742.10" y2="442.33"/>
<line x1="91.10" y1="431.91" x2="102.50" y2="431.91"/>
<line x1="730.70" y1="431.91" x2="742.10" y2="431.91"/>
<line x1="91.10" y1="423.40" x2="102.50" y2="423.40"/>
<line x1="730.70" y1="423.40" x2="742.10" y2="423.40"/>
<line x1="91.10" y1="416.20" x2="102.50" y2="416.20"/>
<line x1="730.70" y1="416.20" x2="742.10" y2="416.20"/>
<line x1="91.10" y1="409.97" x2="102.50" y2="409.97"/>
<line x1="730.70" y1="409.97" x2="742.10" y2="409.97"/>
<line x1="91.10" y1="404.47" x2="102.50" y2="404.47"/>
<line x1="730.70" y1="404.47" x2="742.10" y2="404.47"/>
<line x1="91.10" y1="399.55" x2="113.70" y2="399.55"/>
<line x1="719.50" y1="399.55" x2="742.10" y2="399.55"/>
<line x1="91.10" y1="367.19" x2="102.50" y2="367.19"/>
<line x1="730.70" y1="367.19" x2="742.10" y2="367.19"/>
<line x1="91.10" y1="348.26" x2="102.50" y2="348.26"/>
<line x1="730.70" y1="348.26" x2="742.10" y2="348.26"/>
<line x1="91.10" y1="334.83" x2="102.50" y2="334.83"/>
<line x1="730.70" y1="334.83" x2="742.10" y2="334.83"/>
<line x1="91.10" y1="324.41" x2="102.50" y2="324.41"/>
<line x1="730.70" y1="324.41" x2="742.10" y2="324.41"/>
<line x1="91.10" y1="315.90" x2="102.50" y2="315.90"/>
<line x1="730.70" y1="315.90" x2="742.10" y2="315.90"/>
<line x1="91.10" y1="308.70" x2="102.50" y2="308.70"/>
<line x1="730.70" y1="308.70" x2="742.10" y2="308.70"/>
<line x1="91.10" y1="302.47" x2="102.50" y2="302.47"/>
<line x1="730.70" y1="302.47" x2="742.10" y2="302.47"/>
<line x1="91.10" y1="296.97" x2="102.50" y2="296.97"/>
<line x1="730.70" y1="296.97" x2="742.10" y2="296.97"/>
<line x1="91.10" y1="292.05" x2="113.70" y2="292.05"/>
<line x1="719.50" y1="292.05" x2="742.10" y2="292.05"/>
<line x1="91.10" y1="259.69" x2="102.50" y2="259.69"/>
<line x1="730.70" y1="259.69" x2="742.10" y2="259.69"/>
<line x1="91.10" y1="240.76" x2="102.50" y2="240.76"/>
<line x1="730.70" y1="240.76" x2="742.10" y2="240.76"/>
<line x1="91.10" y1="227.33" x2="102.50" y2="227.33"/>
<line x1="730.70" y1="227.33" x2="742.10" y2="227.33"/>
<line x1="91.10" y1="216.91" x2="102.50" y2="216.91"/>
<line x1="730.70" y1="216.91" x2="742.10" y2="216.91"/>
<line x1="91.10" y1="208.40" x2="102.50" y2="208.40"/>
<line x1="730.70" y1="208.40" x2="742.10" y2="208.40"/>
<line x1="91.10" y1="201.20" x2="102.50" y2="201.20"/>
<line x1="730.70" y1="201.20" x2="742.10" y2="201.20"/>
<line x1="91.10" y1="194.97" x2="102.50" y2="194.97"/>
<line x1="730.70" y1="194.97" x2="742.10" y2="194.97"/>
<line x1="91.10" y1="189.47" x2="102.50" y2="189.47"/>
<line x1="730.70" y1="189.47" x2="742.10" y2="189.47"/>
<line x1="91.10" y1="184.55" x2="113.70" y2="184.55"/>
<line x1="719.50" y1="184.55" x2="742.10" y2="184.55"/>
<line x1="91.10" y1="152.19" x2="102.50" y2="152.19"/>
<line x1="730.70" y1="152.19" x2="742.10" y2="152.19"/>
<line x1="91.10" y1="133.26" x2="102.50" y2="133.26"/>
<line x1="730.70" y1="133.26" x2="742.10" y2="133.26"/>
<line x1="91.10" y1="119.83" x2="102.50" y2="119.83"/>
<line x1="730.70" y1="119.83" x2="742.10" y2="119.83"/>
<line x1="91.10" y1="109.41" x2="102.50" y2="109.41"/>
<line x1="730.70" y1="109.41" x2="742.10" y2="109.41"/>
<line x1="91.10" y1="100.90" x2="102.50" y2="100.90"/>
<line x1="730.70" y1="100.90" x2="742.10" y2="100.90"/>
<line x1="91.10" y1="93.70" x2="102.50" y2="93.70"/>
<line x1="730.70" y1="93.70" x2="742.10" y2="93.70"/>
<line x1="91.10" y1="87.47" x2="102.50" y2="87.47"/>
<line x1="730.70" y1="87.47" x2="742.10" y2="87.47"/>
<line x1="91.10" y1="81.97" x2="102.50" y2="81.97"/>
<line x1="730.70" y1="81.97" x2="742.10" y2="81.97"/>
<line x1="91.10" y1="77.05" x2="113.70" y2="77.05"/>
<line x1="719.50" y1="77.05" x2="742.10" y2="77.05"/>
<line x1="91.10" y1="44.69" x2="102.50" y2="44.69"/>
<line x1="730.70" y1="44.69" x2="742.10" y2="44.69"/>
<line x1="91.10" y1="916.70" x2="105.50" y2="916.70"/>
<line x1="727.70" y1="916.70" x2="742.10" y2="916.70"/>
<line x1="91.10" y1="884.82" x2="101.10" y2="884.82"/>
<line x1="732.10" y1="884.82" x2="742.10" y2="884.82"/>
<line x1="91.10" y1="857.87" x2="101.10" y2="857.87"/>
<line x1="732.10" y1="857.87" x2="742.10" y2="857.87"/>
<line x1="91.10" y1="834.52" x2="101.10" y2="834.52"/>
<line x1="732.10" y1="834.52" x2="742.10" y2="834.52"/>
<line x1="91.10" y1="813.92" x2="101.10" y2="813.92"/>
<line x1="732.10" y1="813.92" x2="742.10" y2="813.92"/>
<line x1="91.10" y1="795.50" x2="105.50" y2="795.50"/>
<line x1="727.70" y1="795.50" x2="742.10" y2="795.50"/>
<line x1="91.10" y1="778.83" x2="101.10" y2="778.83"/>
<line x1="732.10" y1="778.83" x2="742.10" y2="778.83"/>
<line x1="91.10" y1="763.62" x2="101.10" y2="763.62"/>
<line x1="732.10" y1="763.62" x2="742.10" y2="763.62"/>
<line x1="91.10" y1="749.62" x2="101.10" y2="749.62"/>
<line x1="732.10" y1="749.62" x2="742.10" y2="749.62"/>
<line x1="91.10" y1="736.67" x2="101.10" y2="736.67"/>
<line x1="732.10" y1="736.67" x2="742.10" y2="736.67"/>
<line x1="91.10" y1="724.60" x2="105.50" y2="724.60"/>
<line x1="727.70" y1="724.60" x2="742.10" y2="724.60"/>
<line x1="91.10" y1="713.32" x2="101.10" y2="713.32"/>
<line x1="732.10" y1="713.32" x2="742.10" y2="713.32"/>
<line x1="91.10" y1="702.72" x2="101.10" y2="702.72"/>
<line x1="732.10" y1="702.72" x2="742.10" y2="702.72"/>
<line x1="91.10" y1="692.72" x2="101.10" y2="692.72"/>
<line x1="732.10" y1="692.72" x2="742.10" y2="692.72"/>
<line x1="91.10" y1="683.27" x2="101.10" y2="683.27"/>
<line x1="732.10" y1="683.27" x2="742.10" y2="683.27"/>
<line x1="91.10" y1="674.30" x2="105.50" y2="674.30"/>
<line x1="727.70" y1="674.30" x2="742.10" y2="674.30"/>
<line x1="91.10" y1="665.77" x2="101.10" y2="665.77"/>
<line x1="732.10" y1="665.77" x2="742.10" y2="665.77"/>
<line x1="91.10" y1="657.63" x2="101.10" y2="657.63"/>
<line x1="732.10" y1="657.63" x2="742.10" y2="657.63"/>
<line x1="91.10" y1="649.86" x2="101.10" y2="649.86"/>
<line x1="732.10" y1="649.86" x2="742.10" y2="649.86"/>
<line x1="91.10" y1="642.42" x2="101.10" y2="642.42"/>
<line x1="732.10" y1="642.42" x2="742.10" y2="642.42"/>
<line x1="103.78" y1="35.00" x2="103.78" y2="51.00" stroke-width="1.6"/>
<line x1="103.78" y1="619.20" x2="103.78" y2="644.70" stroke-width="1.6"/>
<line x1="103.78" y1="946.60" x2="103.78" y2="956.10" stroke-width="1.6"/>
<line x1="135.09" y1="35.00" x2="135.09" y2="39.20" stroke-width="1.6"/>
<line x1="135.09" y1="631.00" x2="135.09" y2="637.60" stroke-width="1.6"/>
<line x1="135.09" y1="953.70" x2="135.09" y2="956.10" stroke-width="1.6"/>
<line x1="166.39" y1="35.00" x2="166.39" y2="43.00" stroke-width="1.6"/>
<line x1="166.39" y1="627.20" x2="166.39" y2="639.90" stroke-width="1.6"/>
<line x1="166.39" y1="951.40" x2="166.39" y2="956.10" stroke-width="1.6"/>
<line x1="197.70" y1="35.00" x2="197.70" y2="39.20" stroke-width="1.6"/>
<line x1="197.70" y1="631.00" x2="197.70" y2="637.60" stroke-width="1.6"/>
<line x1="197.70" y1="953.70" x2="197.70" y2="956.10" stroke-width="1.6"/>
<line x1="229.00" y1="35.00" x2="229.00" y2="43.00" stroke-width="1.6"/>
<line x1="229.00" y1="627.20" x2="229.00" y2="639.90" stroke-width="1.6"/>
<line x1="229.00" y1="951.40" x2="229.00" y2="956.10" stroke-width="1.6"/>
<line x1="260.31" y1="35.00" x2="260.31" y2="39.20" stroke-width="1.6"/>
<line x1="260.31" y1="631.00" x2="260.31" y2="637.60" stroke-width="1.6"/>
<line x1="260.31" y1="953.70" x2="260.31" y2="956.10" stroke-width="1.6"/>
<line x1="291.61" y1="35.00" x2="291.61" y2="43.00" stroke-width="1.6"/>
<line x1="291.61" y1="627.20" x2="291.61" y2="639.90" stroke-width="1.6"/>
<line x1="291.61" y1="951.40" x2="291.61" y2="956.10" stroke-width="1.6"/>
<line x1="322.92" y1="35.00" x2="322.92" y2="39.20" stroke-width="1.6"/>
<line x1="322.92" y1="631.00" x2="322.92" y2="637.60" stroke-width="1.6"/>
<line x1="322.92" y1="953.70" x2="322.92" y2="956.10" stroke-width="1.6"/>
<line x1="354.22" y1="35.00" x2="354.22" y2="43.00" stroke-width="1.6"/>
<line x1="354.22" y1="627.20" x2="354.22" y2="639.90" stroke-width="1.6"/>
<line x1="354.22" y1="951.40" x2="354.22" y2="956.10" stroke-width="1.6"/>
<line x1="385.52" y1="35.00" x2="385.52" y2="39.20" stroke-width="1.6"/>
<line x1="385.52" y1="631.00" x2="385.52" y2="637.60" stroke-width="1.6"/>
<line x1="385.52" y1="953.70" x2="385.52" y2="956.10" stroke-width="1.6"/>
<line x1="416.83" y1="35.00" x2="416.83" y2="51.00" stroke-width="1.6"/>
<line x1="416.83" y1="619.20" x2="416.83" y2="644.70" stroke-width="1.6"/>
<line x1="416.83" y1="946.60" x2="416.83" y2="956.10" stroke-width="1.6"/>
<line x1="448.13" y1="35.00" x2="448.13" y2="39.20" stroke-width="1.6"/>
<line x1="448.13" y1="631.00" x2="448.13" y2="637.60" stroke-width="1.6"/>
<line x1="448.13" y1="953.70" x2="448.13" y2="956.10" stroke-width="1.6"/>
<line x1="479.44" y1="35.00" x2="479.44" y2="43.00" stroke-width="1.6"/>
<line x1="479.44" y1="627.20" x2="479.44" y2="639.90" stroke-width="1.6"/>
<line x1="479.44" y1="951.40" x2="479.44" y2="956.10" stroke-width="1.6"/>
<line x1="510.75" y1="35.00" x2="510.75" y2="39.20" stroke-width="1.6"/>
<line x1="510.75" y1="631.00" x2="510.75" y2="637.60" stroke-width="1.6"/>
<line x1="510.75" y1="953.70" x2="510.75" y2="956.10" stroke-width="1.6"/>
<line x1="542.05" y1="35.00" x2="542.05" y2="43.00" stroke-width="1.6"/>
<line x1="542.05" y1="627.20" x2="542.05" y2="639.90" stroke-width="1.6"/>
<line x1="542.05" y1="951.40" x2="542.05" y2="956.10" stroke-width="1.6"/>
<line x1="573.36" y1="35.00" x2="573.36" y2="39.20" stroke-width="1.6"/>
<line x1="573.36" y1="631.00" x2="573.36" y2="637.60" stroke-width="1.6"/>
<line x1="573.36" y1="953.70" x2="573.36" y2="956.10" stroke-width="1.6"/>
<line x1="604.66" y1="35.00" x2="604.66" y2="43.00" stroke-width="1.6"/>
<line x1="604.66" y1="627.20" x2="604.66" y2="639.90" stroke-width="1.6"/>
<line x1="604.66" y1="951.40" x2="604.66" y2="956.10" stroke-width="1.6"/>
<line x1="635.97" y1="35.00" x2="635.97" y2="39.20" stroke-width="1.6"/>
<line x1="635.97" y1="631.00" x2="635.97" y2="637.60" stroke-width="1.6"/>
<line x1="635.97" y1="953.70" x2="635.97" y2="956.10" stroke-width="1.6"/>
<line x1="667.27" y1="35.00" x2="667.27" y2="43.00" stroke-width="1.6"/>
<line x1="667.27" y1="627.20" x2="667.27" y2="639.90" stroke-width="1.6"/>
<line x1="667.27" y1="951.40" x2="667.27" y2="956.10" stroke-width="1.6"/>
<line x1="698.58" y1="35.00" x2="698.58" y2="39.20" stroke-width="1.6"/>
<line x1="698.58" y1="631.00" x2="698.58" y2="637.60" stroke-width="1.6"/>
<line x1="698.58" y1="953.70" x2="698.58" y2="956.10" stroke-width="1.6"/>
<line x1="729.88" y1="35.00" x2="729.88" y2="51.00" stroke-width="1.6"/>
<line x1="729.88" y1="619.20" x2="729.88" y2="644.70" stroke-width="1.6"/>
<line x1="729.88" y1="946.60" x2="729.88" y2="956.10" stroke-width="1.6"/>
</g>
<g stroke="#000" stroke-width="2" fill="none"><rect x="91.1" y="35.0" width="651.0" height="921.1"/><line x1="91.1" y1="635.2" x2="742.1" y2="635.2"/></g>
<text transform="translate(760.50 254.20) rotate(-90) scale(0.9510 1)" font-size="19.80" text-anchor="start" fill="#747474">Rivet 4.1.0, ≥ 100k events</text>
<text transform="translate(762.20 629.30) rotate(-90) scale(0.9570 1)" font-size="19.80" text-anchor="start" fill="#747474">mcplots.cern.ch [arXiv:1306.3436]</text>
<text transform="translate(105.40 29.70) scale(0.9300 1)" font-size="25.59" text-anchor="start" fill="#000">13000 GeV pp</text>
<text transform="translate(731.20 29.70) scale(0.9300 1)" font-size="25.59" text-anchor="end" fill="#000">Jets</text>
<text transform="translate(76.40 86.90) scale(0.9720 1)" font-size="24.85" text-anchor="start" fill="#000">CMS, 13 TeV, AK4 jets, central dijet region, 120</text>
<text transform="translate(596.10 86.90) scale(0.9720 1)" font-size="25.00" text-anchor="start" fill="#000">&lt;p</text>
<text transform="translate(619.80 99.60) scale(0.9300 1)" font-size="18.06" text-anchor="middle" fill="#000">T</text>
<text transform="translate(615.00 70.60) scale(0.9300 1)" font-size="16.99" text-anchor="start" fill="#000">{jet</text>
<text transform="translate(637.00 86.90) scale(0.9720 1)" font-size="24.69" text-anchor="start" fill="#000">}&lt; 150 GeV</text>
<text transform="translate(78.6 625.45) scale(0.935 1)" font-size="22.8" text-anchor="end">10<tspan font-size="15.4" dx="-0.4" dy="-10.6">−2</tspan></text>
<text transform="translate(80.6 517.25) scale(0.935 1)" font-size="22.8" text-anchor="end">10<tspan font-size="15.4" dx="-0.4" dy="-10.6">−1</tspan></text>
<text transform="translate(80.00 407.75) scale(0.9450 1)" font-size="22.33" text-anchor="end" fill="#000">1</text>
<text transform="translate(80.00 301.35) scale(0.9450 1)" font-size="22.33" text-anchor="end" fill="#000">10</text>
<text transform="translate(78.6 195.45) scale(0.935 1)" font-size="22.8" text-anchor="end">10<tspan font-size="15.4" dx="-0.4" dy="-10.6">2</tspan></text>
<text transform="translate(78.6 87.95) scale(0.935 1)" font-size="22.8" text-anchor="end">10<tspan font-size="15.4" dx="-0.4" dy="-10.6">3</tspan></text>
<text transform="translate(76.60 683.20) scale(0.9550 1)" font-size="24.29" text-anchor="end" fill="#000">2</text>
<text transform="translate(748.30 683.20) scale(0.9550 1)" font-size="24.29" text-anchor="start" fill="#000">2</text>
<text transform="translate(76.60 805.00) scale(0.9550 1)" font-size="24.29" text-anchor="end" fill="#000">1</text>
<text transform="translate(748.30 805.00) scale(0.9550 1)" font-size="24.29" text-anchor="start" fill="#000">1</text>
<text transform="translate(76.60 925.60) scale(0.9550 1)" font-size="24.29" text-anchor="end" fill="#000">0.5</text>
<text transform="translate(748.30 925.60) scale(0.9550 1)" font-size="24.29" text-anchor="start" fill="#000">0.5</text>
<text transform="translate(103.48 978.70) scale(0.9550 1)" font-size="24.61" text-anchor="middle" fill="#000">0</text>
<text transform="translate(417.53 978.70) scale(0.9550 1)" font-size="24.61" text-anchor="middle" fill="#000">0.5</text>
<text transform="translate(731.28 978.70) scale(0.9550 1)" font-size="24.61" text-anchor="middle" fill="#000">1</text>
<text transform="translate(752.40 1007.30) scale(0.9800 1)" font-size="25.87" text-anchor="end" fill="#000">groomed thrust (charged-only)</text>
<text transform="translate(36.30 846.50) rotate(-90) scale(1.0000 1)" font-size="18.00" text-anchor="start" fill="#000">Ratio to CMS</text>
<text transform="translate(416.00 604.30) scale(0.9300 1)" font-size="16.99" text-anchor="middle" fill="#9e9e9e">(CMS_2021_I1920187)</text>
<rect x="147.60" y="461.80" width="11" height="11" fill="#000" stroke="none"/>
<line x1="128.7" y1="493.7" x2="175.2" y2="493.7" stroke="#ad560f" stroke-width="1.6" stroke-dasharray="4.6 3.6"/>
<circle cx="153.10" cy="493.70" r="5.1" stroke="#ad560f" stroke-width="1.5" fill="none"/>
<line x1="128.7" y1="519.8" x2="175.2" y2="519.8" stroke="#3a940e" stroke-width="1.6" stroke-dasharray="4.6 3.6"/>
<rect x="147.95" y="514.65" width="10.3" height="10.3" stroke="#3a940e" stroke-width="1.5" fill="none"/>
<line x1="128.7" y1="545.4" x2="177.2" y2="545.4" stroke="#1f5f6e" stroke-width="1.6"/>
<path d="M147.60 540.40L158.60 540.40L153.60 550.70L152.60 550.70Z" fill="#1f5f6e" stroke="none"/>
<text transform="translate(187.20 473.20) scale(0.8950 1)" font-size="21.17" text-anchor="start" fill="#000">CMS</text>
<text transform="translate(187.20 499.60) scale(0.8950 1)" font-size="21.17" text-anchor="start" fill="#000">Herwig++ 2.7.1 default</text>
<text transform="translate(187.20 525.70) scale(0.8950 1)" font-size="21.17" text-anchor="start" fill="#000">Herwig 7.2.1 default</text>
<text transform="translate(187.20 551.30) scale(0.8950 1)" font-size="21.17" text-anchor="start" fill="#000">Herwig 7.2.1 softTune</text>
<line x1="20.9" y1="35" x2="20.9" y2="127.8" stroke="#000" stroke-width="2"/>
<line x1="20.9" y1="141" x2="20.9" y2="252.6" stroke="#000" stroke-width="2"/>
<text transform="translate(27.30 140.40) rotate(-90) scale(0.95 1)" font-size="24.00" fill="#000">#</text>
<text transform="translate(27.30 267.00) rotate(-90) scale(0.95 1)" font-size="24.00" fill="#000">#</text>
<text transform="translate(17.00 96.00) rotate(-90) scale(1.03 1)" font-size="24.00" fill="#000">d</text>
<text transform="translate(5.00 84.60) rotate(-90) scale(1.03 1)" font-size="16.00" fill="#000">2</text>
<text transform="translate(17.00 75.40) rotate(-90) scale(1.03 1)" font-size="24.00" fill="#000">N</text>
<text transform="translate(42.60 121.60) rotate(-90) scale(1.03 1)" font-size="24.00" fill="#000">d</text>
<text transform="translate(42.60 101.50) rotate(-90) scale(1.03 1)" font-size="24.00" fill="#000">p</text>
<text transform="translate(57.10 88.70) rotate(-90) scale(0.87 1)" font-size="17.10" fill="#000">T</text>
<text transform="translate(42.60 65.00) rotate(-90) scale(1.03 1)" font-size="24.00" fill="#000">d</text>
<text transform="translate(42.60 48.60) rotate(-90) scale(1.09 1)" font-size="24.00" fill="#000">λ</text>
<text transform="translate(17.60 203.20) rotate(-90) scale(1.03 1)" font-size="24.00" fill="#000">1</text>
<text transform="translate(42.40 246.40) rotate(-90) scale(1.03 1)" font-size="24.50" fill="#000">d</text>
<text transform="translate(42.40 225.60) rotate(-90) scale(0.98 1)" font-size="24.50" fill="#000">N</text>
<text transform="translate(42.40 202.40) rotate(-90) scale(1.03 1)" font-size="24.50" fill="#000">/</text>
<text transform="translate(42.40 182.50) rotate(-90) scale(1.03 1)" font-size="24.50" fill="#000">d</text>
<text transform="translate(42.40 162.20) rotate(-90) scale(1.03 1)" font-size="24.50" fill="#000">p</text>
<text transform="translate(56.10 151.70) rotate(-90) scale(0.87 1)" font-size="17.10" fill="#000">T</text>
</svg>
</body></html>
